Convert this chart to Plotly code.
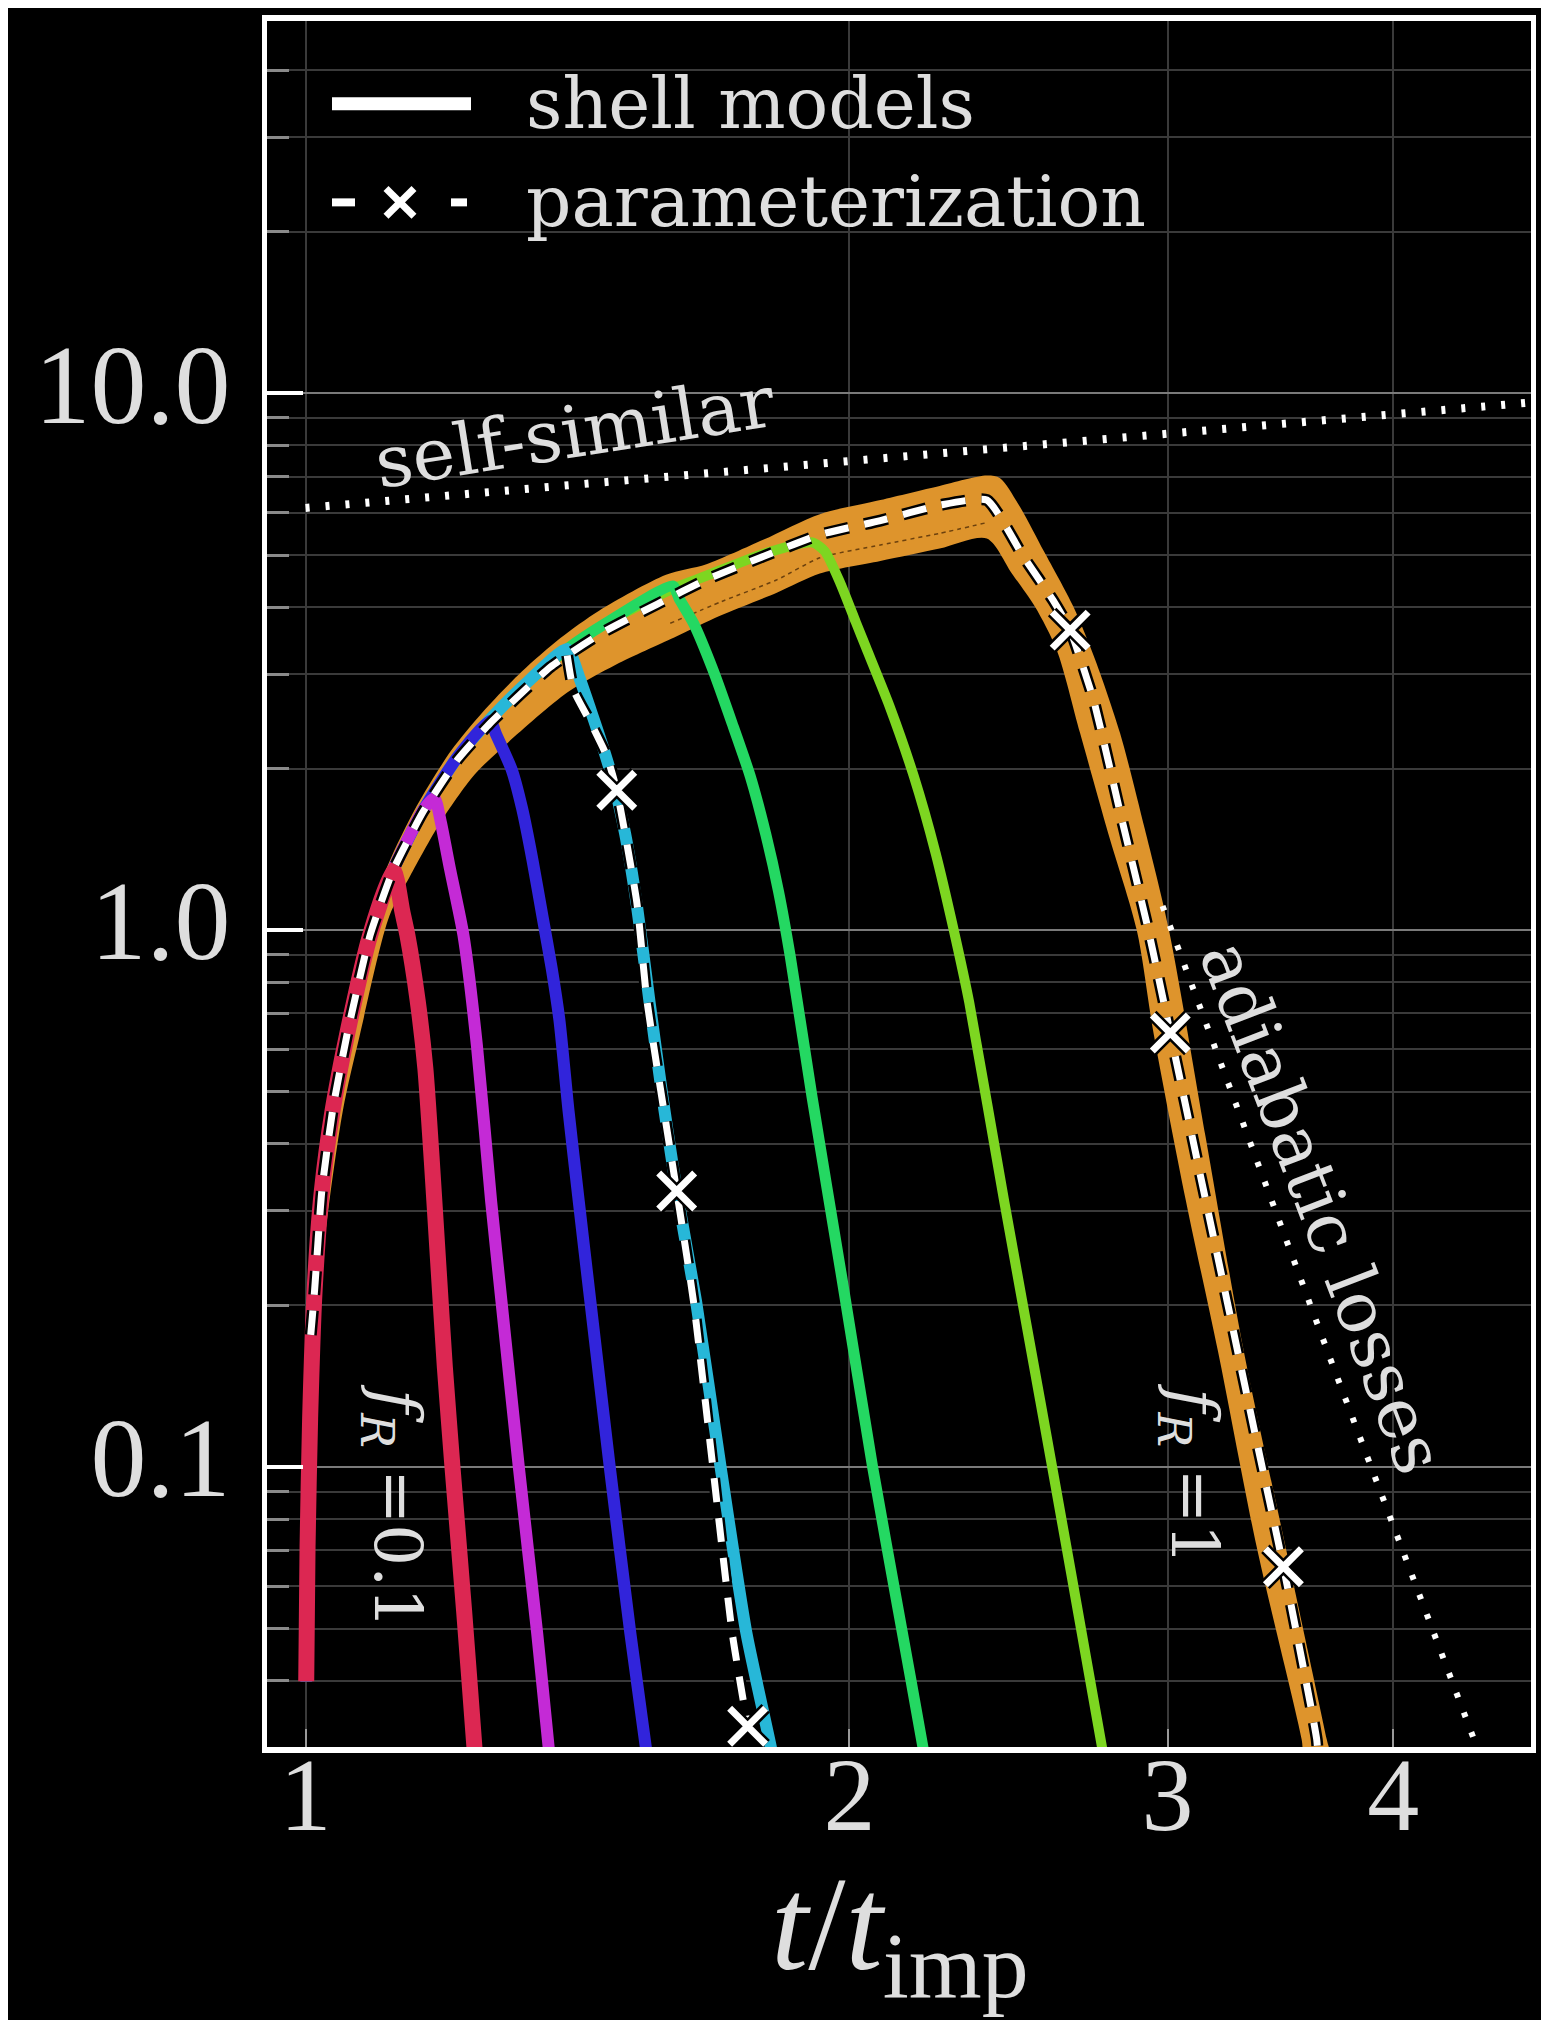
import math
import plotly.graph_objects as go

# ---------------- data ----------------
X_LIM = [0.952, 4.768]
Y_LIM = [0.0301, 49.4]
x_tick_vals = [1, 2, 3, 4]
x_tick_text = ["1", "2", "3", "4"]
y_tick_vals = [0.1, 1, 10]
y_tick_text = ["0.1", "1.0", "10.0"]

# common rising branch shared by all shell models
rise_t = [1.0008, 1.0025, 1.0058, 1.0116, 1.0209, 1.0351, 1.0540, 1.0856, 1.1182, 1.1613, 1.2139,
          1.2648, 1.3286, 1.3958, 1.4662, 1.5971, 1.6668, 1.7917, 1.9071, 2.0805, 2.2437, 2.3844]
rise_v = [0.0399, 0.0711, 0.1233, 0.2139, 0.3268, 0.4624, 0.6366, 0.9782, 1.2955, 1.6692, 2.1036,
          2.4680, 2.9115, 3.3414, 3.7307, 4.3289, 4.5741, 5.0228, 5.3364, 5.8278, 6.1925, 6.3654]

# decaying branches (first point = peak)
red_t = [1.1237, 1.1311, 1.1386, 1.1536, 1.1650, 1.1746, 1.1843, 1.1942, 1.2059, 1.2239, 1.2401, 1.2421]
red_v = [1.2329, 1.0861, 0.9782, 0.7387, 0.5516, 0.3709, 0.2388, 0.1537, 0.1000, 0.0540, 0.0301, 0.0279]
mag_t = [1.1785, 1.1882, 1.2020, 1.2229, 1.2441, 1.2668, 1.2836, 1.3123, 1.3433, 1.3631, 1.3663]
mag_v = [1.7636, 1.5884, 1.3026, 0.9782, 0.6091, 0.3128, 0.2035, 0.1000, 0.0491, 0.0301, 0.0279]
blue_t = [1.2648, 1.2753, 1.3005, 1.3177, 1.3352, 1.3528, 1.3686, 1.3820, 1.3980, 1.4165, 1.4376,
          1.4736, 1.5127, 1.5428, 1.5466]
blue_v = [2.4544, 2.3101, 1.9909, 1.6876, 1.3539, 1.0566, 0.8479, 0.6801, 0.4624, 0.3128, 0.2035,
          0.1000, 0.0491, 0.0301, 0.0279]
cyan_t = [1.3958, 1.4165, 1.4376, 1.4590, 1.4807, 1.5028, 1.5252, 1.5503, 1.5761, 1.6048, 1.6450,
          1.6972, 1.7539, 1.8093, 1.8167]
cyan_v = [3.3414, 2.9763, 2.5792, 2.2226, 1.8841, 1.5115, 1.1165, 0.7346, 0.4887, 0.3268, 0.2035,
          0.1000, 0.0491, 0.0301, 0.0279]
green_t = [1.5971, 1.6101, 1.6396, 1.6805, 1.7224, 1.7625, 1.7976, 1.8274, 1.8546, 1.9071, 1.9805,
           2.0601, 2.1289, 2.1964, 2.2051]
green_v = [4.3770, 4.1420, 3.7307, 3.0591, 2.4276, 1.9369, 1.5115, 1.1797, 0.8959, 0.4887, 0.2260,
           0.1000, 0.0540, 0.0301, 0.0276]
lime_t = [1.9071, 1.9385, 1.9773, 2.0163, 2.0430, 2.1043, 2.1710, 2.2324, 2.2846, 2.3299, 2.4355,
          2.5505, 2.6529, 2.7596, 2.7729]
lime_v = [5.2785, 5.0789, 4.4254, 3.7516, 3.3596, 2.6222, 1.9369, 1.3917, 1.0000, 0.7346, 0.3145,
          0.1332, 0.0636, 0.0301, 0.0276]

# f_R = 1 shell models: band (upper / lower envelope)
band_up_t = [1.0008, 1.0008, 1.0049, 1.0132, 1.0266, 1.0453, 1.0767, 1.1108, 1.1517, 1.2036, 1.2534,
             1.3169, 1.3838, 1.4543, 1.5831, 1.6668, 1.7917, 1.9260, 2.0805, 2.2437, 2.3828, 2.4235,
             2.4802, 2.5627, 2.6610, 2.7368, 2.8238, 2.9130, 3.0056, 3.1484, 3.3061, 3.4869, 3.6753,
             3.6993]
band_up_v = [0.0936, 0.1233, 0.2139, 0.3286, 0.4676, 0.6472, 0.9945, 1.3243, 1.6996, 2.1587, 2.5509,
             3.0293, 3.5014, 3.9417, 4.5942, 4.8064, 5.3364, 5.9582, 6.3304, 6.7258, 7.0288, 6.9515,
             6.2263, 5.0789, 4.0030, 3.1798, 2.3294, 1.5537, 1.0000, 0.4143, 0.1645, 0.0711, 0.0311,
             0.0279]
band_lo_t = [1.0082, 1.0132, 1.0249, 1.0488, 1.0714, 1.1127, 1.1423, 1.1863, 1.2401, 1.2942, 1.3958,
             1.4857, 1.5997, 1.6972, 1.8244, 1.9260, 2.0805, 2.2437, 2.3828, 2.4596, 2.5334, 2.6052,
             2.6836, 2.7823, 2.8848, 2.9470, 3.0705, 3.1992, 3.3608, 3.5595, 3.5768]
band_lo_v = [0.0936, 0.1623, 0.2666, 0.4624, 0.6366, 1.0625, 1.2603, 1.5796, 1.9476, 2.2350, 2.7710,
             3.1273, 3.5112, 3.8560, 4.2580, 4.6171, 4.8730, 5.1405, 5.3662, 4.6248, 4.0074, 3.3231,
             2.3294, 1.5115, 1.0000, 0.6436, 0.3145, 0.1645, 0.0711, 0.0311, 0.0279]
band_mid_t = [1.5917, 1.6996, 1.8244, 1.9260, 2.0805, 2.2437, 2.3762]
band_mid_v = [3.7307, 4.0966, 4.4992, 4.9406, 5.2203, 5.4857, 5.7330]

# parameterization
par_t = [1.0066, 1.0116, 1.0209, 1.0351, 1.0540, 1.0856, 1.1182, 1.1613, 1.2139, 1.2648, 1.3663,
         1.4567, 1.5659, 1.6668, 1.7917, 1.9260, 2.0805, 2.2437, 2.3828, 2.4966, 2.5927, 2.6499,
         2.7299, 2.8262, 2.9277, 3.0106, 3.1221, 3.2381, 3.3541, 3.4776, 3.6284, 3.6362]
par_v = [0.1763, 0.2139, 0.3268, 0.4624, 0.6366, 0.9782, 1.2955, 1.6600, 2.0805, 2.4276, 3.0930,
         3.5697, 4.0521, 4.4992, 4.9679, 5.4555, 5.7964, 6.1925, 6.3304, 4.9679, 4.1196, 3.6232,
         2.6868, 1.6418, 1.0000, 0.6436, 0.3608, 0.2024, 0.1154, 0.0652, 0.0311, 0.0279]
par_cyan_t = [1.3958, 1.4072, 1.4401, 1.4686, 1.4868, 1.5252, 1.5455, 1.6048, 1.6396, 1.6805, 1.7224, 1.7567]
par_cyan_v = [3.2506, 2.8013, 2.4142, 2.1036, 1.8229, 1.1288, 0.7346, 0.3268, 0.2035, 0.1000, 0.0491, 0.0329]
mark_t = [1.4868, 1.6048, 1.7567, 2.6499, 3.0106, 3.4776]
mark_v = [1.8229, 0.3268, 0.0329, 3.6232, 0.6436, 0.0652]

# reference scalings
ss_t = [1.0, 4.768]
ss_v = [6.12, 9.62]
ad_t = [2.981, 3.690, 4.450]
ad_v = [1.110, 0.1598, 0.0301]

# ---------------- styling ----------------
RED, MAG, BLUE, CYAN = "#DC2752", "#C42AD6", "#3124DB", "#27B7D8"
GREEN, LIME, ORANGE = "#24D862", "#7DD621", "#DE942C"
TXT = "#dedede"
SERIF = "DejaVu Serif"
CMLIKE = "Liberation Serif"

# the page adds an 8px body margin; the figure is sized so the plot lands where the reference has it
OFF = 8
W, H = 1549 - OFF, 2020 - OFF
ML, MR, MT, MB = 267 - OFF, 18, 15 - OFF, 273
PW, PH = W - ML - MR, H - MT - MB


def px(xp):  # page pixel -> paper x
    return (xp - OFF - ML) / PW


def py(yp):  # page pixel -> paper y
    return (OFF + MT + PH - yp) / PH


def shell(dt, dv):
    xs = [t for t in rise_t if t < dt[0]]
    ys = rise_v[:len(xs)]
    return xs + dt, ys + dv


fig = go.Figure()

# orange band (f_R = 1)
fig.add_trace(go.Scatter(x=band_up_t + band_lo_t[::-1], y=band_up_v + band_lo_v[::-1],
                         mode="lines", fill="toself", fillcolor=ORANGE,
                         line=dict(width=0, color=ORANGE, shape="spline", smoothing=0.8),
                         hoverinfo="skip"))
fig.add_trace(go.Scatter(x=band_mid_t, y=band_mid_v, mode="lines",
                         line=dict(width=1.5, color="rgba(60,30,0,0.7)", dash="4px,4px",
                                   shape="spline", smoothing=0.6)))

for dt, dv, col, w in [(lime_t, lime_v, LIME, 10), (green_t, green_v, GREEN, 11),
                       (cyan_t, cyan_v, CYAN, 12), (blue_t, blue_v, BLUE, 12),
                       (mag_t, mag_v, MAG, 12), (red_t, red_v, RED, 16)]:
    xs, ys = shell(dt, dv)
    fig.add_trace(go.Scatter(x=xs, y=ys, mode="lines",
                             line=dict(width=w, color=col, shape="spline", smoothing=0.6)))

# self-similar and adiabatic guide lines
fig.add_trace(go.Scatter(x=ss_t, y=ss_v, mode="lines",
                         line=dict(width=8, color="white", dash="4px,16px")))
fig.add_trace(go.Scatter(x=ad_t, y=ad_v, mode="lines",
                         line=dict(width=6, color="white", dash="5px,16px")))

# parameterization (black outline + white dashes)
for t, v in [(par_t, par_v), (par_cyan_t, par_cyan_v)]:
    fig.add_trace(go.Scatter(x=t, y=v, mode="lines",
                             line=dict(width=12, color="black", dash="24px,16px",
                                       shape="spline", smoothing=0.5)))
    fig.add_trace(go.Scatter(x=t, y=v, mode="lines",
                             line=dict(width=7, color="white", dash="24px,16px",
                                       shape="spline", smoothing=0.5)))
fig.add_trace(go.Scatter(x=mark_t, y=mark_v, mode="markers",
                         marker=dict(symbol="x-thin", size=36, color="black",
                                     line=dict(width=12, color="black"))))
fig.add_trace(go.Scatter(x=mark_t, y=mark_v, mode="markers",
                         marker=dict(symbol="x-thin", size=36, color="white",
                                     line=dict(width=7, color="white"))))

# ---------------- legend (drawn manually) ----------------
shapes = []
yl1, yl2 = py(98), py(197)
shapes.append(dict(type="line", xref="paper", yref="paper", x0=px(332), x1=px(471), y0=yl1, y1=yl1,
                   line=dict(color="white", width=13)))
for a, b in [(332, 355), (451, 467)]:
    shapes.append(dict(type="line", xref="paper", yref="paper", x0=px(a), x1=px(b), y0=yl2, y1=yl2,
                       line=dict(color="white", width=8)))
cx, cy, d = 400, 197, 14
shapes.append(dict(type="line", xref="paper", yref="paper", x0=px(cx - d), x1=px(cx + d),
                   y0=py(cy - d), y1=py(cy + d), line=dict(color="white", width=7)))
shapes.append(dict(type="line", xref="paper", yref="paper", x0=px(cx - d), x1=px(cx + d),
                   y0=py(cy + d), y1=py(cy - d), line=dict(color="white", width=7)))


def note(text, xp, yp, size, angle=0, xanchor="center", family=SERIF):
    return dict(text=text, x=px(xp), y=py(yp), xref="paper", yref="paper", xanchor=xanchor,
                yanchor="middle", textangle=angle, showarrow=False,
                font=dict(family=family, size=size, color=TXT))


ann = [
    note("shell models", 524, 98, 71, xanchor="left"),
    note("parameterization", 524, 196, 71, xanchor="left"),
    note("self-similar", 574, 427, 72, angle=-9),
    note("adiabatic losses", 1322, 1205, 70, angle=69),
    note("<i>f</i><sub><i>R</i></sub> =0.1", 393, 1505, 66, angle=90),
    note("<i>f</i><sub><i>R</i></sub> =1", 1190, 1473, 66, angle=90),
    note("<i>t</i>/<i>t</i><sub>imp</sub>", 900, 1934, 134, family=CMLIKE),
]

minor_vals = [m * 10 ** e for e in (-2, -1, 0, 1) for m in range(2, 10)]

fig.update_layout(
    width=W, height=H, margin=dict(l=ML, r=MR, t=MT, b=MB),
    paper_bgcolor="black", plot_bgcolor="black", showlegend=False,
    shapes=shapes, annotations=ann,
    xaxis=dict(type="log", range=[math.log10(X_LIM[0]), math.log10(X_LIM[1])],
               tickvals=x_tick_vals, ticktext=x_tick_text, ticks="inside", ticklen=18,
               tickwidth=2, tickcolor="#9a9a9a", showgrid=True, gridcolor="#3a3a3a", gridwidth=1.5,
               showline=True, linecolor="white", linewidth=6, mirror=True, zeroline=False,
               tickfont=dict(family=CMLIKE, size=104, color=TXT), ticklabelstandoff=-48),
    yaxis=dict(type="log", range=[math.log10(Y_LIM[0]), math.log10(Y_LIM[1])],
               tickvals=y_tick_vals, ticktext=y_tick_text, ticks="inside", ticklen=36,
               tickwidth=4, tickcolor="white", showgrid=True, gridcolor="#7a7a7a", gridwidth=2,
               showline=True, linecolor="white", linewidth=5, mirror=True, zeroline=False,
               tickfont=dict(family=CMLIKE, size=112, color=TXT), ticklabelstandoff=9,
               ticklabelshift=-10,
               minor=dict(tickvals=minor_vals, ticks="inside", ticklen=22, tickwidth=2.5,
                          tickcolor="#8a8a8a", showgrid=True, gridcolor="#3a3a3a", gridwidth=1.5)),
)

fig.write_html("out.html")
